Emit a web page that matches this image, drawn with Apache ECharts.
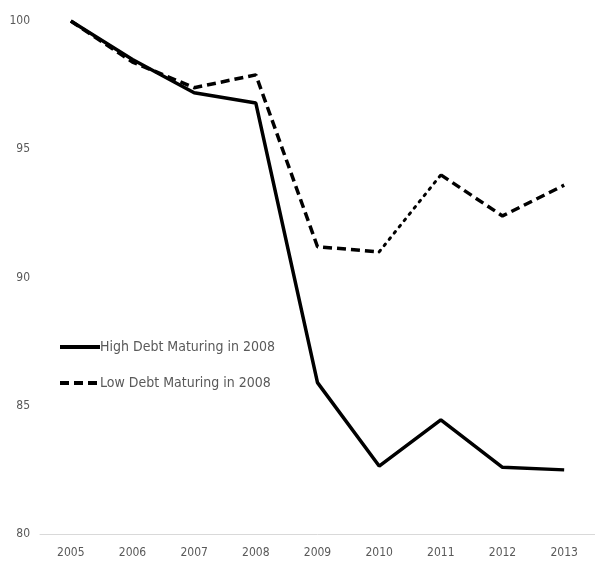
<!DOCTYPE html>
<html style="height: 100%">
<head>
    <meta charset="utf-8">
    <title>Debt maturing in 2008</title>
    <script type="text/javascript" src="https://cdn.jsdelivr.net/npm/echarts@6/dist/echarts.min.js"></script>
</head>
<body style="width: 100%;margin: 0;height: 100%;background: #fff">
<div id="container" style="width: 595px;height: 563px"></div>
<script type="application/javascript">

    var years = ['2005', '2006', '2007', '2008', '2009', '2010', '2011', '2012', '2013'];
    var highDebt = [100, 98.5, 97.2, 96.8, 85.9, 82.65, 84.45, 82.6, 82.5];
    var lowDebt = [100, 98.4, 97.4, 97.9, 91.2, 91.0, 94.0, 92.4, 93.6];
    var highName = 'High Debt Maturing in 2008';
    var lowName = 'Low Debt Maturing in 2008';

    // the low debt line is dotted between 2010 and 2011
    var lowFirst = lowDebt.map(function (v, i) { return i <= 5 ? v : null; });
    var lowDotted = lowDebt.map(function (v, i) { return (i == 5 || i == 6) ? v : null; });
    var lowLast = lowDebt.map(function (v, i) { return i >= 6 ? v : null; });

    var font = '"Liberation Sans Narrow", "DejaVu Sans Condensed", sans-serif';

    var dom = document.getElementById("container");
    var myChart = echarts.init(dom);

    var option = {
        animation: false,
        grid: {
            left: 40,
            right: -9,
            top: 21,
            bottom: 29
        },
        legend: {
            orient: 'vertical',
            left: 53,
            top: 335,
            itemGap: 22,
            itemWidth: 40,
            itemHeight: 14,
            data: [highName, lowName],
            itemStyle: {opacity: 0},
            lineStyle: {width: 4},
            textStyle: {color: '#595959', fontSize: 14, fontFamily: font, padding: [0, 0, 0, -5]}
        },
        xAxis: {
            type: 'category',
            data: years,
            axisLine: {lineStyle: {color: '#d9d9d9', width: 1}},
            axisTick: {show: false},
            axisLabel: {color: '#595959', fontSize: 12, fontFamily: font, margin: 13}
        },
        yAxis: {
            type: 'value',
            min: 80,
            max: 100,
            interval: 5,
            splitLine: {show: false},
            axisLabel: {color: '#595959', fontSize: 12, fontFamily: font, margin: 10}
        },
        series: [
            {
                name: highName,
                type: 'line',
                symbol: 'none',
                data: highDebt,
                itemStyle: {color: '#000'},
                lineStyle: {color: '#000', width: 3.5}
            },
            {
                name: lowName,
                type: 'line',
                symbol: 'none',
                data: lowFirst,
                itemStyle: {color: '#000'},
                lineStyle: {color: '#000', width: 3.5, type: [9, 5]}
            },
            {
                name: 'dotted',
                type: 'line',
                symbol: 'none',
                data: lowDotted,
                itemStyle: {color: '#000'},
                lineStyle: {color: '#000', width: 3, type: [2, 6], cap: 'round'}
            },
            {
                name: lowName,
                type: 'line',
                symbol: 'none',
                data: lowLast,
                itemStyle: {color: '#000'},
                lineStyle: {color: '#000', width: 3.5, type: [9, 5]}
            }
        ]
    };

    myChart.setOption(option);
</script>
</body>
</html>
